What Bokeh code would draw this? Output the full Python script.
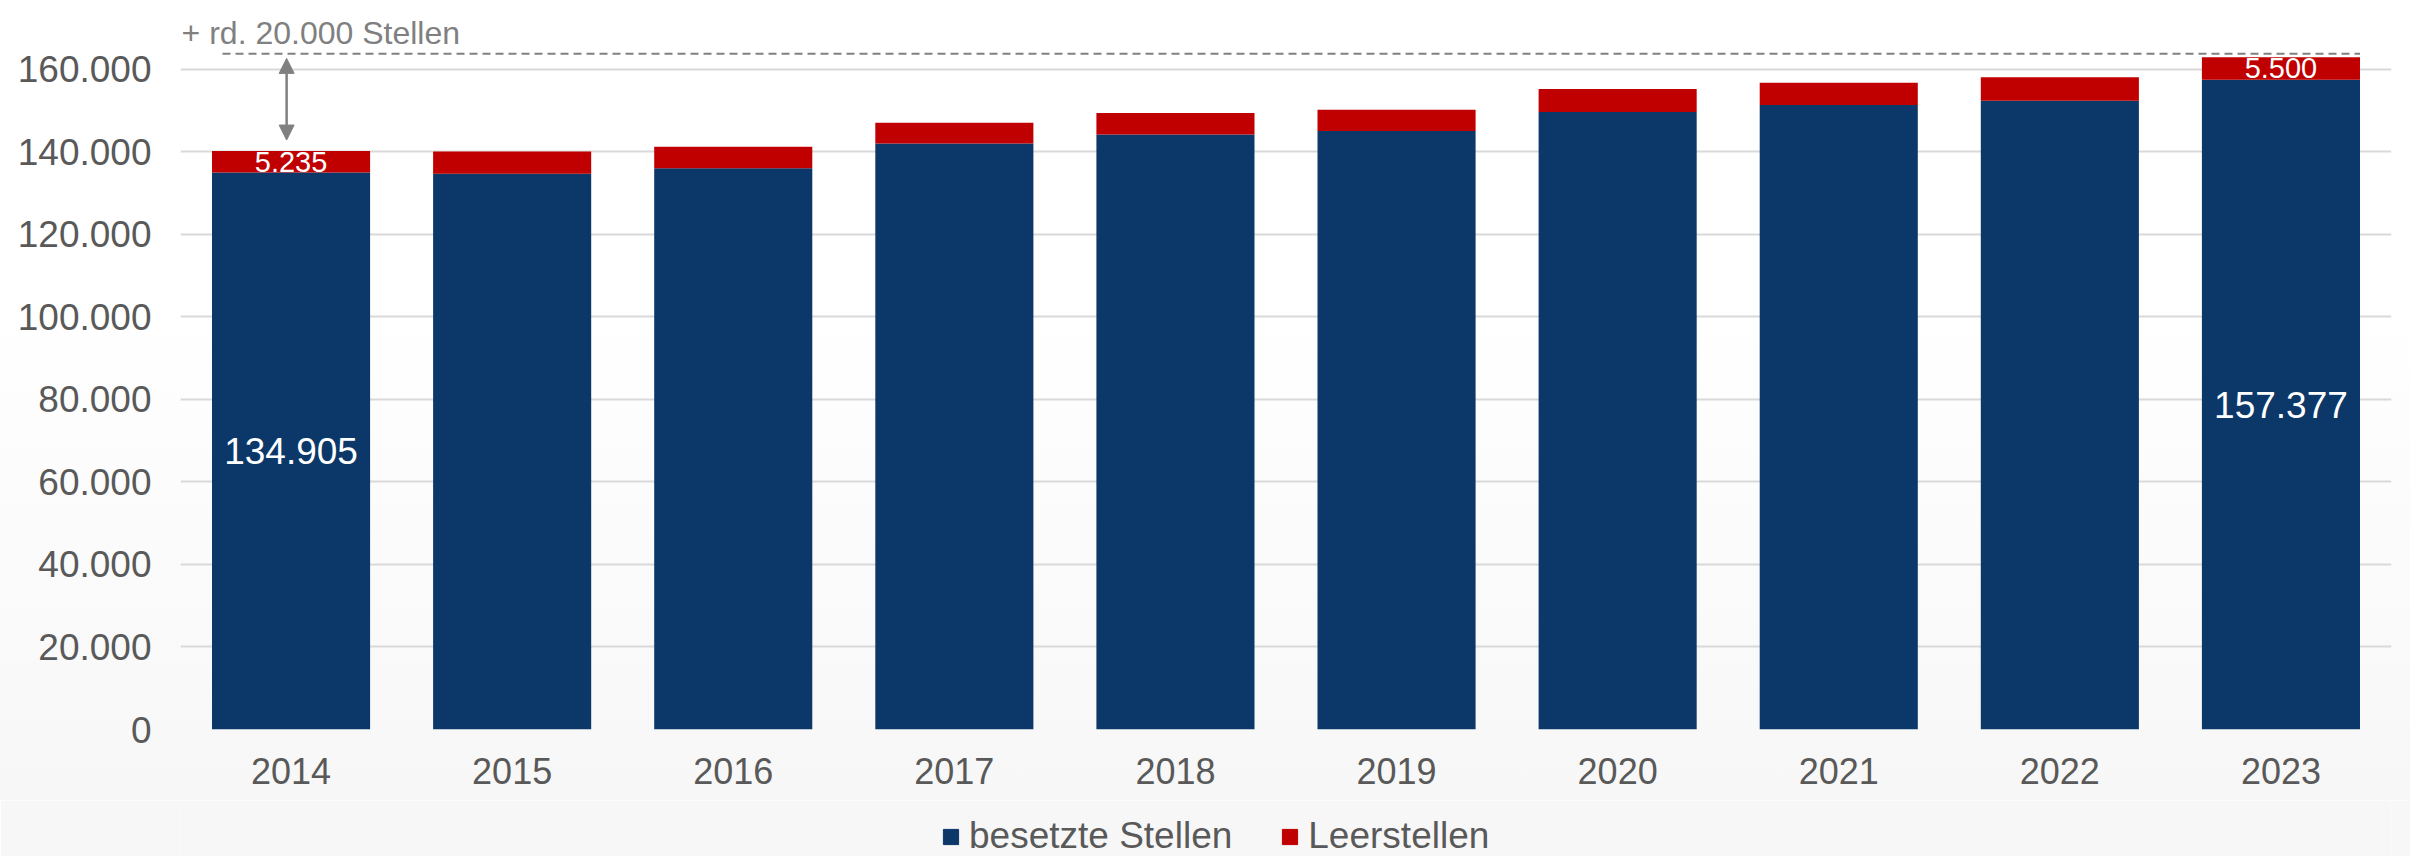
from bokeh.plotting import figure
from bokeh.layouts import column
from bokeh.models import (FactorRange, Range1d, FixedTicker, Legend, LegendItem,
                          Label, LabelSet, ColumnDataSource, Arrow, NormalHead,
                          InlineStyleSheet)
from bokeh.core.properties import value
from bokeh.embed import file_html
from bokeh.resources import INLINE

# ---------------- data ----------------
years = ["2014", "2015", "2016", "2017", "2018", "2019", "2020", "2021", "2022", "2023"]
besetzt = [134905, 134600, 135960, 141930, 144110, 145000, 149600, 151290, 152330, 157377]
leer = [5235, 5400, 5180, 5080, 5250, 5160, 5560, 5400, 5650, 5500]
series_names = ["besetzte Stellen", "Leerstellen"]
y_ticks = [0, 20000, 40000, 60000, 80000, 100000, 120000, 140000, 160000]
y_tick_labels = ["0", "20.000", "40.000", "60.000", "80.000", "100.000", "120.000", "140.000", "160.000"]
annotation_text = "+ rd. 20.000 Stellen"
labelled_years = ["2014", "2023"]

NAVY = "#0b3769"
RED = "#c00000"
TXT = "#595959"
FONT = "Liberation Sans"
BOTTOM_BG = "#f7f7f7"


def de(v):
    return f"{v:,}".replace(",", ".")


src = ColumnDataSource(dict(year=years, besetzt=besetzt, leer=leer))

p = figure(x_range=FactorRange(factors=years, range_padding=0),
           y_range=Range1d(0, 174660),
           width=2410, height=800,
           output_backend="svg", toolbar_location=None,
           min_border_left=180, min_border_right=19, min_border_top=8,
           min_border_bottom=71)
p.stylesheets = [InlineStyleSheet(css=":host { background: linear-gradient(to bottom, #ffffff 0%, #ffffff 38%, #f7f7f7 100%); }")]
p.background_fill_alpha = 0
p.border_fill_alpha = 0
p.outline_line_color = None

rs = p.vbar_stack(["besetzt", "leer"], x="year", width=0.715, source=src,
                  color=[NAVY, RED], line_color=None)

# axes
p.xaxis.axis_line_color = None
p.xaxis.major_tick_line_color = None
p.xaxis.major_tick_out = 0
p.xaxis.major_tick_in = 0
p.xaxis.major_label_standoff = 28
p.xaxis.major_label_text_font = FONT
p.xaxis.major_label_text_font_size = "36px"
p.xaxis.major_label_text_color = TXT

p.yaxis.ticker = FixedTicker(ticks=y_ticks)
p.yaxis.major_label_overrides = {t: l for t, l in zip(y_ticks, y_tick_labels)}
p.yaxis.axis_line_color = None
p.yaxis.major_tick_line_color = None
p.yaxis.minor_tick_line_color = None
p.yaxis.major_tick_out = 0
p.yaxis.major_tick_in = 0
p.yaxis.major_label_standoff = 29
p.yaxis.major_label_text_font = FONT
p.yaxis.major_label_text_font_size = "37px"
p.yaxis.major_label_text_color = TXT

p.xgrid.grid_line_color = None
p.ygrid.grid_line_color = "#d9d9d9"
p.ygrid.grid_line_width = 2

# value labels
idx = [years.index(y) for y in labelled_years]
big = ColumnDataSource(dict(x=[years[i] for i in idx],
                            y=[besetzt[i] / 2 for i in idx],
                            t=[de(besetzt[i]) for i in idx]))
small = ColumnDataSource(dict(x=[years[i] for i in idx],
                              y=[besetzt[i] + leer[i] / 2 for i in idx],
                              t=[de(leer[i]) for i in idx]))
p.add_layout(LabelSet(x="x", y="y", text="t", source=big, text_align="center",
                      text_baseline="middle", text_color="white",
                      text_font=value(FONT), text_font_size="37px"))
p.add_layout(LabelSet(x="x", y="y", text="t", source=small, text_align="center",
                      text_baseline="middle", text_color="white",
                      text_font=value(FONT), text_font_size="29px"))

# dashed reference line at the 2023 total
top_2023 = besetzt[-1] + leer[-1]
line_y = top_2023 + 800
p.add_layout(Arrow(end=None, start=None, x_start=0.19, x_end=9.8575,
                   y_start=line_y, y_end=line_y, line_color="#808080",
                   line_width=2, line_dash="8 5"))

# double arrow over 2014
top_2014 = besetzt[0] + leer[0]
p.add_layout(Arrow(start=NormalHead(size=15, fill_color="#808080", line_color="#808080"),
                   end=NormalHead(size=15, fill_color="#808080", line_color="#808080"),
                   x_start=0.48, x_end=0.48, y_start=top_2014 + 2650, y_end=line_y - 1100,
                   line_color="#808080", line_width=2.5))

p.add_layout(Label(x=0.005, y=168680, text=annotation_text, text_font=FONT,
                   text_font_size="32px", text_color="#808080",
                   text_baseline="alphabetic", text_align="left"))

# ---------------- legend strip ----------------
lg = figure(width=2410, height=56, x_range=Range1d(0, 2410), y_range=Range1d(0, 56),
            x_axis_location=None, y_axis_location=None,
            output_backend="svg", toolbar_location=None,
            min_border=0, min_border_left=0, min_border_right=0,
            min_border_top=0, min_border_bottom=0)
lg.grid.visible = False
lg.outline_line_color = None
lg.background_fill_color = BOTTOM_BG
lg.border_fill_color = BOTTOM_BG
r_b = lg.vbar(x=[-500], top=[-500], bottom=[-600], width=1, color=NAVY)
r_l = lg.vbar(x=[-500], top=[-500], bottom=[-600], width=1, color=RED)
legend = Legend(items=[LegendItem(label=series_names[0], renderers=[r_b]),
                       LegendItem(label=series_names[1], renderers=[r_l])],
                orientation="horizontal", location=(761, -1),
                label_text_font=FONT, label_text_font_size="37px",
                label_text_color=TXT, glyph_width=19, glyph_height=19,
                label_standoff=9, spacing=48, padding=0, margin=0,
                background_fill_alpha=0, border_line_color=None)
lg.add_layout(legend, "center")

layout = column(p, lg, spacing=0)
open("out.html", "w").write(file_html(layout, INLINE))
